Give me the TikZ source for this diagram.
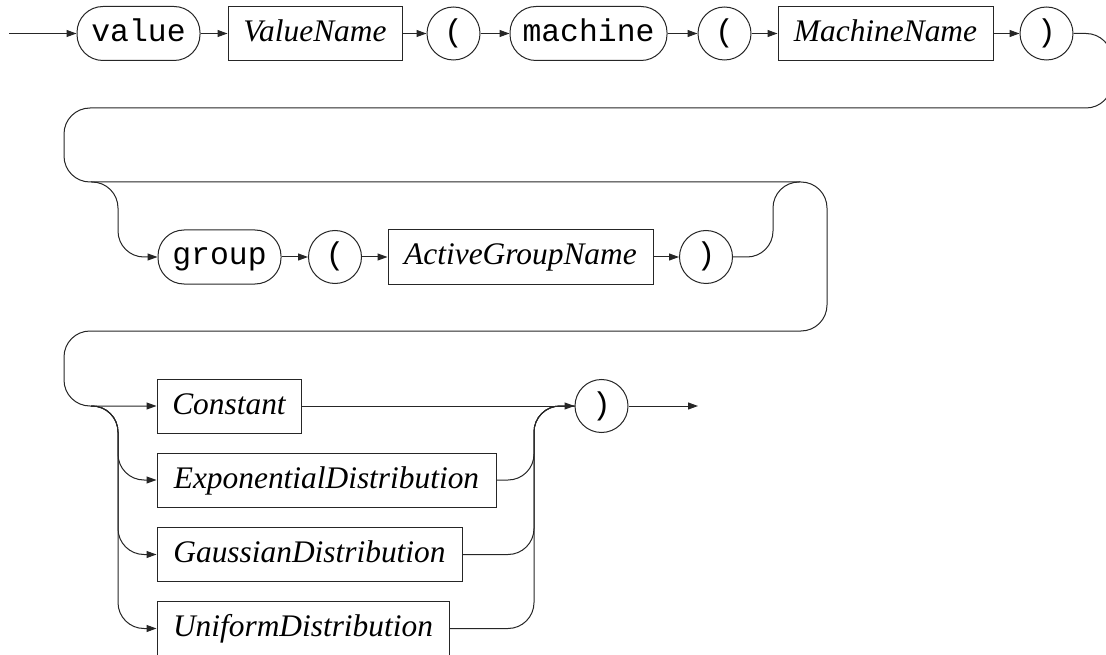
\documentclass[tikz,border=0pt]{standalone}
\usepackage{fontspec}
\setmainfont{Liberation Serif}
\setmonofont{Liberation Mono}
\usetikzlibrary{arrows.meta}
\begin{document}
\begin{tikzpicture}[x=1pt,y=-1pt,
  every node/.style={text height=20pt, text depth=4pt, inner sep=0pt, draw=black!85, line width=1pt, minimum height=54pt},
  nonterm/.style={rectangle, font=\fontsize{31.4}{36}\selectfont\itshape},
  term/.style={rectangle, rounded corners=26pt, font=\fontsize{31.4}{36}\selectfont\ttfamily},
  sym/.style={circle, minimum size=53pt, font=\fontsize{31.4}{36}\selectfont\ttfamily},
  conn/.style={draw=black!85, line width=1pt, rounded corners=26pt},
  arr/.style={-{Triangle[length=10pt,width=7pt]}},
]
\useasboundingbox (0,0) rectangle (1106,655);

% row 1
\node[term, minimum width=123pt] (val) at (138.5,33.5) {value};
\node[nonterm, minimum width=174pt] (vn) at (315,33.5) {ValueName};
\node[sym] (lp1) at (453.5,33.5) {(};
\node[term, minimum width=157pt] (mach) at (588.5,33.5) {machine};
\node[sym] (lp2) at (724.5,33.5) {(};
\node[nonterm, minimum width=215pt] (mn) at (885.5,33.5) {MachineName};
\node[sym] (rp1) at (1046.5,33.5) {)};

% row 2
\node[term, minimum width=123pt] (grp) at (219.5,257) {group};
\node[sym] (lp3) at (335,257) {(};
\node[nonterm, minimum width=265pt] (agn) at (520.5,257) {ActiveGroupName};
\node[sym] (rp2) at (706,257) {)};

% row 3
\node[nonterm, minimum width=144pt] (cons) at (229,406) {Constant};
\node[nonterm, minimum width=339pt] (expd) at (326.5,480) {ExponentialDistribution};
\node[nonterm, minimum width=305pt] (gaud) at (309.5,554.5) {GaussianDistribution};
\node[nonterm, minimum width=292pt] (unid) at (303,628.5) {UniformDistribution};
\node[sym] (rp3) at (601.5,406) {)};

% coordinates
\coordinate (start) at (9,33.5);
\coordinate (finish) at (698,406);
\coordinate (k1) at (1112,33.5);
\coordinate (k2) at (1112,108);
\coordinate (k3) at (64,108);
\coordinate (k4) at (64,182);
\coordinate (k5) at (827,182);
\coordinate (k6) at (827,331);
\coordinate (k7) at (64,331);
\coordinate (k8) at (64,406);
\coordinate (g0) at (91,182);
\coordinate (g1) at (118,182);
\coordinate (g2) at (118,257);
\coordinate (g3) at (773,257);
\coordinate (g4) at (773,182);
\coordinate (g5) at (800,182);
\coordinate (b0) at (91,406);
\coordinate (b1) at (118,406);
\coordinate (b2) at (118,480);
\coordinate (b3) at (118,554.5);
\coordinate (b4) at (118,628.5);
\coordinate (m1) at (534,480);
\coordinate (m2) at (534,554.5);
\coordinate (m3) at (534,628.5);
\coordinate (m4) at (534,406);

% row 1 connectors
\draw[conn, arr] (start) -- (val.west);
\draw[conn, arr] (val.east) -- (vn.west);
\draw[conn, arr] (vn.east) -- (lp1.west);
\draw[conn, arr] (lp1.east) -- (mach.west);
\draw[conn, arr] (mach.east) -- (lp2.west);
\draw[conn, arr] (lp2.east) -- (mn.west);
\draw[conn, arr] (mn.east) -- (rp1.west);

% main loop through bypass to Constant
\draw[conn, arr] (rp1.east) -- (k1) -- (k2) -- (k3) -- (k4) -- (k5) -- (k6) -- (k7) -- (k8) -- (cons.west);

% group branch
\draw[conn, arr] (g0) -- (g1) -- (g2) -- (grp.west);
\draw[conn, arr] (grp.east) -- (lp3.west);
\draw[conn, arr] (lp3.east) -- (agn.west);
\draw[conn, arr] (agn.east) -- (rp2.west);
\draw[conn] (rp2.east) -- (g3) -- (g4) -- (g5);

% row 3 branches
\draw[conn, arr] (b0) -- (b1) -- (b2) -- (expd.west);
\draw[conn, arr] (b0) -- (b1) -- (b3) -- (gaud.west);
\draw[conn, arr] (b0) -- (b1) -- (b4) -- (unid.west);

% merges
\draw[conn, arr] (cons.east) -- (rp3.west);
\draw[conn] (expd.east) -- (m1) -- (m4) -- (rp3.west);
\draw[conn] (gaud.east) -- (m2) -- (m4) -- (rp3.west);
\draw[conn] (unid.east) -- (m3) -- (m4) -- (rp3.west);
\draw[conn, arr] (rp3.east) -- (finish);
\end{tikzpicture}
\end{document}
